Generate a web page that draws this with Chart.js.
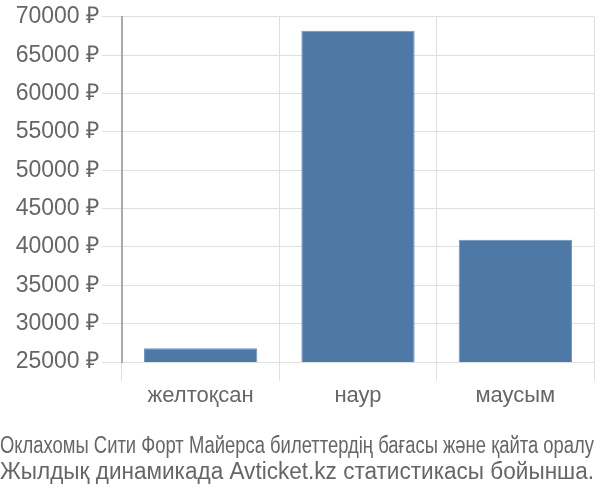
<!DOCTYPE html>
<html>
<head>
<meta charset="utf-8">
<script src="https://cdn.jsdelivr.net/npm/chart.js@4"></script>
<style>
html,body{margin:0;padding:0;background:#fff;}
#wrap{width:600px;height:500px;position:relative;}
</style>
</head>
<body>
<div id="wrap"><canvas id="c"></canvas></div>
<script>
const categories = ["желтоқсан", "наур", "маусым"];
const prices = [26810, 68190, 40940];
const titleLines = [
  "Оклахомы Сити Форт Майерса билеттердің бағасы және қайта оралу",
  "Жылдық динамикада Avticket.kz статистикасы бойынша."
];
const yMin = 25000, yMax = 70000, yStep = 5000;

Chart.defaults.font.family = "'Liberation Sans', Arial, sans-serif";
Chart.defaults.color = "#666";

new Chart(document.getElementById('c'), {
  type: 'bar',
  data: {
    labels: categories,
    datasets: [{
      data: prices,
      backgroundColor: '#4e79a7',
      borderColor: '#6f93bb',
      borderWidth: 1,
      categoryPercentage: 0.72,
      barPercentage: 1.0
    }]
  },
  options: {
    responsive: true,
    maintainAspectRatio: false,
    animation: false,
    layout: { padding: { left: 0, right: 6, top: 0, bottom: 2 } },
    plugins: {
      legend: { display: false },
      tooltip: { enabled: false },
      title: {
        display: true,
        position: 'bottom',
        text: titleLines,
        color: '#666',
        font: { size: 23, weight: 'normal', lineHeight: 1.13 },
        padding: { top: 10, bottom: 12 }
      }
    },
    scales: {
      x: {
        afterFit: (s) => { s.height = 62; },
        grid: { offset: true, color: '#e0e0e0', tickLength: 19, drawOnChartArea: true },
        border: { display: false },
        ticks: { font: { size: 22 }, color: '#666', padding: 2 }
      },
      y: {
        min: yMin, max: yMax,
        afterFit: (s) => { s.width = 122; },
        grid: { color: '#e0e0e0', tickLength: 20 },
        border: { display: true, color: '#aaa', width: 2 },
        ticks: {
          stepSize: yStep,
          font: { size: 23 },
          color: '#666',
          padding: 3,
          callback: (v) => v + ' ₽'
        }
      }
    }
  }
});
</script>
</body>
</html>
